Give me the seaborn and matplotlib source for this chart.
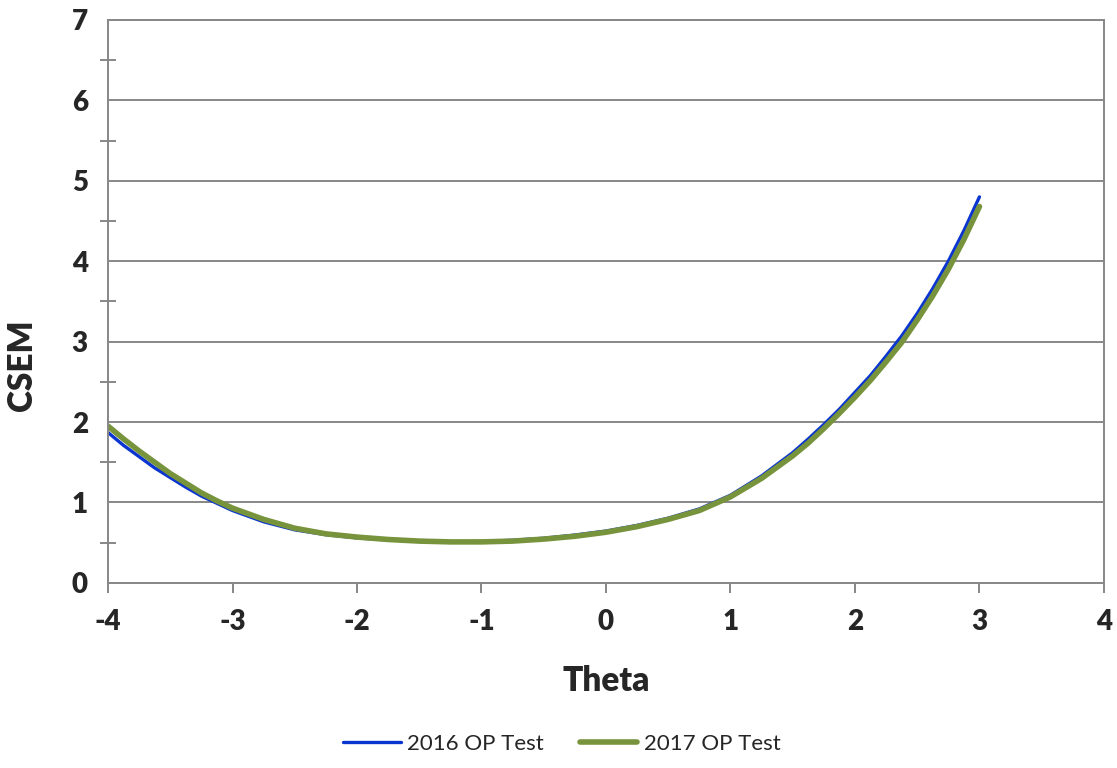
import matplotlib
matplotlib.use("Agg")
import matplotlib.pyplot as plt
import seaborn as sns
import pandas as pd
from matplotlib.ticker import MultipleLocator

theta = [-4.0, -3.875, -3.75, -3.625, -3.5, -3.375, -3.25, -3.125, -3.0, -2.75,
         -2.5, -2.25, -2.0, -1.75, -1.5, -1.25, -1.0, -0.75, -0.5, -0.25, 0.0,
         0.25, 0.5, 0.75, 1.0, 1.25, 1.5, 1.625, 1.75, 1.875, 2.0, 2.125, 2.25,
         2.375, 2.5, 2.625, 2.75, 2.875, 3.0]
csem_2016 = [1.87, 1.71, 1.57, 1.43, 1.31, 1.19, 1.08, 0.99, 0.90, 0.76,
             0.66, 0.60, 0.56, 0.535, 0.52, 0.51, 0.515, 0.53, 0.555, 0.595, 0.645,
             0.715, 0.805, 0.92, 1.09, 1.33, 1.62, 1.79, 1.97, 2.16, 2.37, 2.58, 2.82,
             3.07, 3.35, 3.66, 4.00, 4.38, 4.80]
csem_2017 = [1.95, 1.79, 1.64, 1.50, 1.36, 1.24, 1.12, 1.02, 0.93, 0.79,
             0.68, 0.61, 0.57, 0.54, 0.52, 0.51, 0.51, 0.52, 0.545, 0.58, 0.63,
             0.70, 0.79, 0.90, 1.07, 1.30, 1.58, 1.74, 1.92, 2.11, 2.31, 2.52, 2.75,
             2.99, 3.27, 3.57, 3.90, 4.27, 4.68]
series_names = ["2016 OP Test", "2017 OP Test"]
x_ticks = [-4, -3, -2, -1, 0, 1, 2, 3, 4]
x_tick_labels = ["-4", "-3", "-2", "-1", "0", "1", "2", "3", "4"]
y_ticks = [0, 1, 2, 3, 4, 5, 6, 7]
y_tick_labels = ["0", "1", "2", "3", "4", "5", "6", "7"]

sns.set_style("white")
plt.rcParams['font.family'] = ['Lato', 'DejaVu Sans']

df16 = pd.DataFrame({"Theta": theta, "CSEM": csem_2016})
df17 = pd.DataFrame({"Theta": theta, "CSEM": csem_2017})

fig = plt.figure(figsize=(11.17, 7.68), dpi=100)
ax = fig.add_axes([0.0967, 0.241, 0.8916, 0.733])

grid_c = "#878787"
sns.lineplot(data=df16, x="Theta", y="CSEM", ax=ax, color="#0A35D0", linewidth=2.4,
             label=series_names[0], solid_capstyle="round", solid_joinstyle="round")
sns.lineplot(data=df17, x="Theta", y="CSEM", ax=ax, color="#77933C", linewidth=4.0,
             label=series_names[1], solid_capstyle="round", solid_joinstyle="round")

ax.set_xlim(-4, 4)
ax.set_ylim(0, 7)
ax.set_xticks(x_ticks, labels=x_tick_labels, fontweight="heavy", fontsize=20)
ax.set_yticks(y_ticks, labels=y_tick_labels, fontweight="heavy", fontsize=20)
ax.yaxis.set_minor_locator(MultipleLocator(0.5))
ax.grid(axis="y", which="major", color=grid_c, linewidth=1.4)
ax.grid(axis="x", visible=False)
ax.set_axisbelow(True)
for s in ax.spines.values():
    s.set_color(grid_c)
    s.set_linewidth(1.4)
    s.set_visible(True)

ax.tick_params(axis="y", which="major", direction="inout", length=13, width=1.4,
               color=grid_c, pad=8)
ax.tick_params(axis="y", which="minor", direction="inout", length=11, width=1.4,
               color=grid_c, left=True)
ax.tick_params(axis="x", which="major", direction="out", length=7, width=1.4,
               color=grid_c, pad=12, bottom=True)

ax.set_xlabel("Theta", fontsize=24, fontweight="heavy")
ax.set_ylabel("CSEM", fontsize=24, fontweight="heavy")
ax.xaxis.set_label_coords(0.5, -0.145)
ax.yaxis.set_label_coords(-0.070, 0.387)

ax.get_legend().remove()
handles, labels = ax.get_legend_handles_labels()
fig.legend(handles, labels, loc="center", bbox_to_anchor=(0.503, 0.031), ncol=2,
           frameon=False, fontsize=16, handlelength=2.6, handletextpad=0.3,
           columnspacing=1.6)

fig.savefig("out.png", dpi=100, facecolor="white")
